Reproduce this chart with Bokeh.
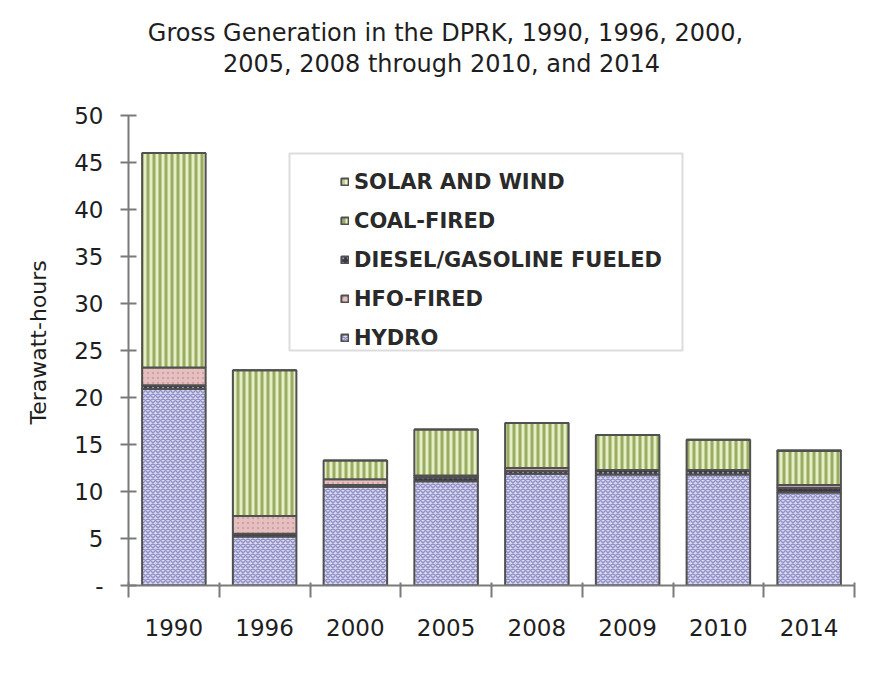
from bokeh.plotting import figure
from bokeh.models import (Range1d, FixedTicker, Label, Legend, LegendItem, Title,
                          BoxAnnotation, ColumnDataSource)
from bokeh.embed import file_html
from bokeh.resources import INLINE

# ---- data (TWh) ----
years = ["1990", "1996", "2000", "2005", "2008", "2009", "2010", "2014"]
hydro = [20.9, 5.2, 10.5, 11.1, 11.9, 11.8, 11.8, 9.9]
diesel = [0.4, 0.3, 0.2, 0.4, 0.3, 0.5, 0.5, 0.5]
hfo = [1.9, 1.9, 0.6, 0.2, 0.3, 0.0, 0.0, 0.3]
coal = [22.8, 15.5, 2.0, 4.9, 4.8, 3.7, 3.2, 3.6]
solar = [0.0, 0.0, 0.0, 0.0, 0.0, 0.0, 0.0, 0.1]

series_keys = ["hydro", "diesel", "hfo", "coal", "solar"]
series_labels = ["HYDRO", "DIESEL/GASOLINE FUELED", "HFO-FIRED", "COAL-FIRED", "SOLAR AND WIND"]
legend_order = ["solar", "coal", "diesel", "hfo", "hydro"]
y_ticks = [0, 5, 10, 15, 20, 25, 30, 35, 40, 45, 50]
y_max = 50
title_line1 = "Gross Generation in the DPRK, 1990, 1996, 2000,"
title_line2 = "2005, 2008 through 2010, and 2014"
y_label = "Terawatt-hours"

src = ColumnDataSource(dict(
    x=[i + 0.5 for i in range(len(years))],
    hydro=hydro, diesel=diesel, hfo=hfo, coal=coal, solar=solar,
))

FONT = "DejaVu Sans"
TXT = "#1e1e1e"
AX = "#7a7a7a"

# frame spans from canvas y=10 to y=585; axis 0..50 occupies the lower 470 px
FRAME_TOP, FRAME_BOTTOM, AXIS_TOP = 10, 585, 115
px_per_unit = (FRAME_BOTTOM - AXIS_TOP) / y_max
y_end = (FRAME_BOTTOM - FRAME_TOP) / px_per_unit

p = figure(width=862, height=665, x_range=Range1d(0, len(years)), y_range=Range1d(0, y_end),
           output_backend="svg", toolbar_location=None, title_location=None,
           min_border_left=128, min_border_right=8, min_border_top=FRAME_TOP,
           min_border_bottom=665 - FRAME_BOTTOM)
p.outline_line_color = None
p.xgrid.visible = False
p.ygrid.visible = False
p.background_fill_color = "white"
p.border_fill_color = "white"

fills = ["#d8d8f4", "#3a3a44", "#e6c0c0", "#e6eec6", "#f2f2c8"]
hatches = ["diagonal_cross", "dot", "dot", "vertical_line", "vertical_line"]
hcolors = ["#9292c4", "#9a9aa8", "#d0a4a4", "#98ac62", "#c8cc90"]
hscales = [5, 5, 5, 6, 6]
hweights = [1.5, 1.2, 1.0, 3, 2]

rs = p.vbar_stack(series_keys, x="x", width=0.7, source=src,
                  fill_color=fills, hatch_pattern=hatches, hatch_color=hcolors,
                  hatch_scale=hscales, hatch_weight=hweights,
                  line_color="#505050", line_width=2)

# axes
p.yaxis.bounds = (0, y_max)
p.yaxis.ticker = FixedTicker(ticks=y_ticks)
p.yaxis.major_label_overrides = {0: "-"}
p.yaxis.axis_line_color = AX
p.yaxis.axis_line_width = 2
p.yaxis.major_tick_line_color = AX
p.yaxis.major_tick_line_width = 2
p.yaxis.major_tick_in = 8
p.yaxis.major_tick_out = 8
p.yaxis.minor_tick_line_color = None
p.yaxis.major_label_text_font = FONT
p.yaxis.major_label_text_font_size = "23px"
p.yaxis.major_label_text_color = TXT
p.yaxis.major_label_standoff = 17

# y-axis title as a left-side Title, measured from the frame bottom
p.add_layout(Title(text=y_label, align="left", offset=161, vertical_align="bottom",
                   standoff=42, text_font=FONT, text_font_size="22px",
                   text_font_style="normal", text_color=TXT), "left")

p.xaxis.ticker = FixedTicker(ticks=[i + 0.5 for i in range(len(years))],
                             minor_ticks=list(range(len(years) + 1)))
p.xaxis.major_label_overrides = {i + 0.5: y for i, y in enumerate(years)}
p.xaxis.axis_line_color = AX
p.xaxis.axis_line_width = 2
p.xaxis.major_tick_line_color = None
p.xaxis.major_tick_in = 0
p.xaxis.major_tick_out = 0
p.xaxis.minor_tick_line_color = AX
p.xaxis.minor_tick_line_width = 2
p.xaxis.minor_tick_in = 3
p.xaxis.minor_tick_out = 12
p.xaxis.major_label_text_font = FONT
p.xaxis.major_label_text_font_size = "23px"
p.xaxis.major_label_text_color = TXT
p.xaxis.major_label_standoff = 21

# two-line title, placed in canvas pixels (inside the tall frame)
for txt, cx, cy in [(title_line1, 445, 32), (title_line2, 441, 63)]:
    p.add_layout(Label(x=cx, y=cy, x_units="canvas", y_units="canvas", text=txt,
                       text_align="center", text_baseline="middle",
                       text_font=FONT, text_font_size="24px", text_color=TXT))

# legend box + legend
box = BoxAnnotation(left=289, right=682, top=153, bottom=350,
                    left_units="canvas", right_units="canvas",
                    top_units="canvas", bottom_units="canvas",
                    fill_color=None, line_color="#8c8c8c", line_width=2)
p.add_layout(box)

by_key = dict(zip(series_keys, zip(series_labels, rs)))
items = [LegendItem(label=by_key[k][0], renderers=[by_key[k][1]]) for k in legend_order]
legend = Legend(items=items, location=(212, 228), orientation="vertical",
                background_fill_alpha=0, border_line_color=None,
                padding=2, spacing=0, margin=0,
                label_height=39, glyph_height=9, glyph_width=9, label_standoff=5,
                label_text_font=FONT, label_text_font_size="21px",
                label_text_font_style="bold", label_text_color="#2a2a2a")
p.add_layout(legend, "center")

open("out.html", "w").write(file_html(p, INLINE))
